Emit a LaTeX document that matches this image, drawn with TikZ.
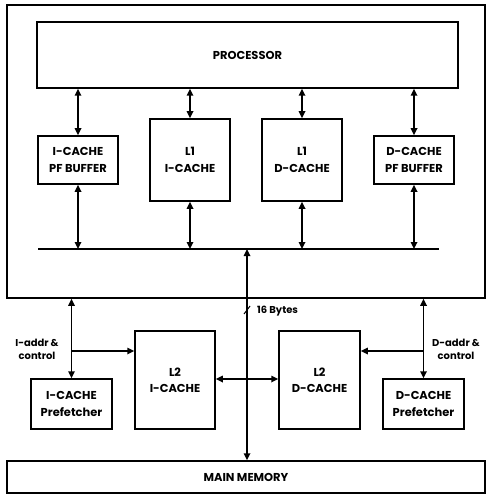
\documentclass[tikz,border=0pt]{standalone}
\usepackage{fontspec}
\setmainfont{Poppins}
\usetikzlibrary{arrows.meta}
\begin{document}
\begin{tikzpicture}[x=1bp,y=-1bp,
  box/.style={draw,line width=1.5bp,inner sep=0pt,align=center,font=\fontsize{11.5}{16.5}\selectfont\bfseries},
  lab/.style={inner sep=0pt,align=center,font=\fontsize{10}{13}\selectfont\bfseries},
  arr/.style={line width=1.6bp,{Triangle[length=7bp,width=6.5bp]}-{Triangle[length=7bp,width=6.5bp]}},
  sarr/.style={line width=1.6bp,-{Triangle[length=7bp,width=6.5bp]}}]
\useasboundingbox (0,0) rectangle (486,498);
% boxes
\node[box,minimum width=478bp,minimum height=293bp] (outer) at (246,151.5) {};
\node[box,minimum width=421bp,minimum height=66bp] (proc) at (247.5,55) {PROCESSOR};
\node[box,minimum width=80bp,minimum height=48bp] (ipf) at (78,160) {I-CACHE\\PF BUFFER};
\node[box,minimum width=80bp,minimum height=82bp] (l1i) at (190,160) {L1\\I-CACHE};
\node[box,minimum width=80bp,minimum height=82bp] (l1d) at (302,160) {L1\\D-CACHE};
\node[box,minimum width=80bp,minimum height=48bp] (dpf) at (414,160) {D-CACHE\\PF BUFFER};
\node[box,minimum width=81bp,minimum height=50bp] (ipre) at (71.5,404) {I-CACHE\\Prefetcher};
\node[box,minimum width=80bp,minimum height=98bp] (l2i) at (175,380) {L2\\I-CACHE};
\node[box,minimum width=81bp,minimum height=98bp] (l2d) at (319.5,380) {L2\\D-CACHE};
\node[box,minimum width=81bp,minimum height=50bp] (dpre) at (423.5,404) {D-CACHE\\Prefetcher};
\node[box,minimum width=478bp,minimum height=32bp] (mem) at (246,477) {MAIN MEMORY};
% bus
\coordinate (busL) at (38,249);
\coordinate (busR) at (439,249);
\coordinate (bc) at (247,249);
\draw[line width=1.6bp] (busL) -- (busR);
% L1 level arrows
\foreach \n in {ipf,l1i,l1d,dpf}{
  \draw[arr] (proc.south -| \n.north) -- (\n.north);
  \draw[arr] (\n.south) -- (\n.south |- busL);
}
% central bus to memory
\draw[arr] (bc) -- (bc |- mem.north);
\coordinate (sl) at (247,310);
\draw[line width=1bp] ([shift={(-3,4)}]sl) -- ([shift={(3,-4)}]sl);
\node[lab,anchor=west] (bytes) at (257,311) {16 Bytes};
% I side
\coordinate (ib) at (71.5,351);
\draw[arr] (outer.south -| ipre.north) -- (ipre.north);
\draw[sarr] (ib) -- (ib -| l2i.west);
\node[lab] (ilab) at (37,349) {I-addr \&\\control};
% D side
\coordinate (db) at (423.5,351);
\draw[arr] (outer.south -| dpre.north) -- (dpre.north);
\draw[sarr] (db) -- (db -| l2d.east);
\node[lab] (dlab) at (456,349) {D-addr \&\\control};
% L2 I <-> L2 D
\coordinate (hy) at (0,379);
\draw[arr] (l2i.east |- hy) -- (l2d.west |- hy);
\end{tikzpicture}
\end{document}
